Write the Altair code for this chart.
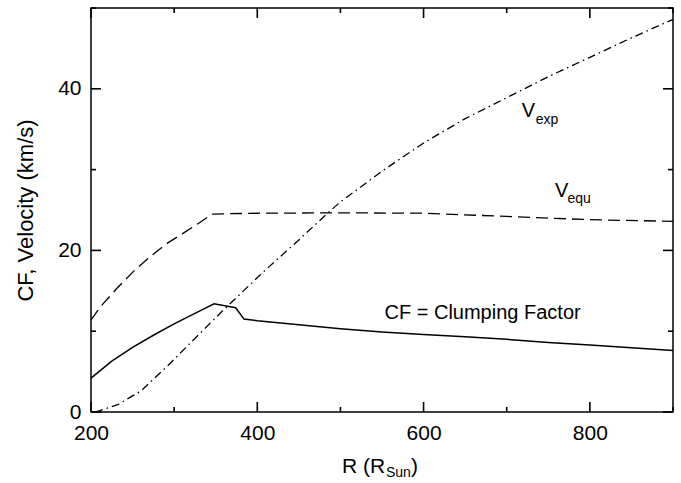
import altair as alt
import pandas as pd

# ---- data ----
R_cf = [200, 225, 250, 275, 300, 325, 348, 374, 384, 400, 450, 500, 550, 600, 650, 700, 750, 800, 850, 900]
CF = [4.2, 6.3, 8.0, 9.5, 10.9, 12.2, 13.4, 12.9, 11.5, 11.3, 10.8, 10.3, 9.9, 9.6, 9.3, 9.0, 8.6, 8.3, 7.95, 7.6]

R_equ = [200, 212, 232, 252, 272, 292, 312, 330, 346, 400, 500, 600, 700, 800, 900]
V_equ = [11.4, 13.1, 15.4, 17.5, 19.3, 20.9, 22.2, 23.4, 24.5, 24.6, 24.65, 24.6, 24.2, 23.8, 23.6]

R_exp = [205, 232, 260, 292, 324, 360, 408, 450, 485, 500, 550, 600, 650, 700, 750, 800, 850, 900]
V_exp = [0.0, 0.9, 2.6, 5.7, 9.0, 12.7, 17.4, 21.3, 24.65, 26.0, 29.8, 33.3, 36.3, 38.9, 41.5, 43.9, 46.3, 48.6]

x_major = [200, 400, 600, 800]
x_minor = [300, 500, 700, 900]
y_major = [0, 20, 40]
y_minor = [10, 30, 50]

# annotation labels (data coordinates)
big_R = [553, 718, 758]
big_V = [12.3, 37.2, 27.3]
big_text = ["CF = Clumping Factor", "V", "V"]
sub_R = [735, 773]
sub_V = [36.1, 26.3]
sub_text = ["exp", "equ"]

W, H = 582, 404
FONT = "Liberation Sans"

xs = alt.Scale(domain=[200, 900], nice=False, zero=False)
ys = alt.Scale(domain=[0, 50], nice=False, zero=False)

df_cf = pd.DataFrame({"R": R_cf, "V": CF})
df_equ = pd.DataFrame({"R": R_equ, "V": V_equ})
df_exp = pd.DataFrame({"R": R_exp, "V": V_exp})

xaxis = alt.Axis(values=x_major, ticks=False, domain=False, grid=False, labelFontSize=21,
                 labelFont=FONT, labelColor="black", labelPadding=10, labelFlush=False, title=None)
yaxis = alt.Axis(values=y_major, ticks=False, domain=False, grid=False, labelFontSize=21,
                 labelFont=FONT, labelColor="black", labelPadding=10, labelFlush=False,
                 title="CF, Velocity (km/s)", titleFont=FONT, titleFontSize=22,
                 titleFontWeight="normal", titleColor="black", titlePadding=20)

cf_line = alt.Chart(df_cf).mark_line(color="black", strokeWidth=1.5).encode(
    x=alt.X("R:Q", scale=xs, axis=xaxis),
    y=alt.Y("V:Q", scale=ys, axis=yaxis),
)
equ_line = alt.Chart(df_equ).mark_line(color="black", strokeWidth=1.3, strokeDash=[12, 6]).encode(
    x=alt.X("R:Q", scale=xs), y=alt.Y("V:Q", scale=ys)
)
exp_line = alt.Chart(df_exp).mark_line(color="black", strokeWidth=1.3, strokeDash=[8, 4, 1.5, 4]).encode(
    x=alt.X("R:Q", scale=xs), y=alt.Y("V:Q", scale=ys)
)

def xticks(vals, length, top):
    d = pd.DataFrame({"R": vals})
    if top:
        pos = dict(y=alt.value(0), y2=alt.value(length))
    else:
        pos = dict(y=alt.value(H), y2=alt.value(H - length))
    return alt.Chart(d).mark_rule(color="black", strokeWidth=1.6).encode(
        x=alt.X("R:Q", scale=xs), **pos)

def yticks(vals, length, right):
    d = pd.DataFrame({"V": vals})
    if right:
        pos = dict(x=alt.value(W), x2=alt.value(W - length))
    else:
        pos = dict(x=alt.value(0), x2=alt.value(length))
    return alt.Chart(d).mark_rule(color="black", strokeWidth=1.6).encode(
        y=alt.Y("V:Q", scale=ys), **pos)

ticks = [
    xticks(x_major, 10, False), xticks(x_minor, 5, False),
    xticks(x_major, 10, True), xticks(x_minor, 5, True),
    yticks(y_major, 10, False), yticks(y_minor, 5, False),
    yticks(y_major, 10, True), yticks(y_minor, 5, True),
]

big_lab = alt.Chart(pd.DataFrame({"R": big_R, "V": big_V, "t": big_text})).mark_text(
    align="left", baseline="middle", font=FONT, fontSize=20, color="black").encode(
    x=alt.X("R:Q", scale=xs), y=alt.Y("V:Q", scale=ys), text="t:N")
sub_lab = alt.Chart(pd.DataFrame({"R": sub_R, "V": sub_V, "t": sub_text})).mark_text(
    align="left", baseline="middle", font=FONT, fontSize=14, color="black").encode(
    x=alt.X("R:Q", scale=xs), y=alt.Y("V:Q", scale=ys), text="t:N")

# x-axis title "R (R_Sun)" built from pieces, placed in pixels below the plot
one = pd.DataFrame({"k": [0]})
xt1 = alt.Chart(one).mark_text(align="left", baseline="middle", font=FONT, fontSize=21,
                               color="black", text="R (R").encode(x=alt.value(251), y=alt.value(459))
xt2 = alt.Chart(one).mark_text(align="left", baseline="middle", font=FONT, fontSize=14,
                               color="black", text="Sun").encode(x=alt.value(295), y=alt.value(465))
xt3 = alt.Chart(one).mark_text(align="left", baseline="middle", font=FONT, fontSize=21,
                               color="black", text=")").encode(x=alt.value(320), y=alt.value(459))

chart = alt.layer(cf_line, equ_line, exp_line, *ticks, big_lab, sub_lab, xt1, xt2, xt3).properties(
    width=W, height=H,
    padding={"left": 91, "top": 8, "right": 8, "bottom": 71},
    autosize=alt.AutoSizeParams(type="none"),
    background="white",
).configure_view(stroke="black", strokeWidth=1.5)

chart.save("out.html", embed_options={"renderer": "svg", "actions": False})
